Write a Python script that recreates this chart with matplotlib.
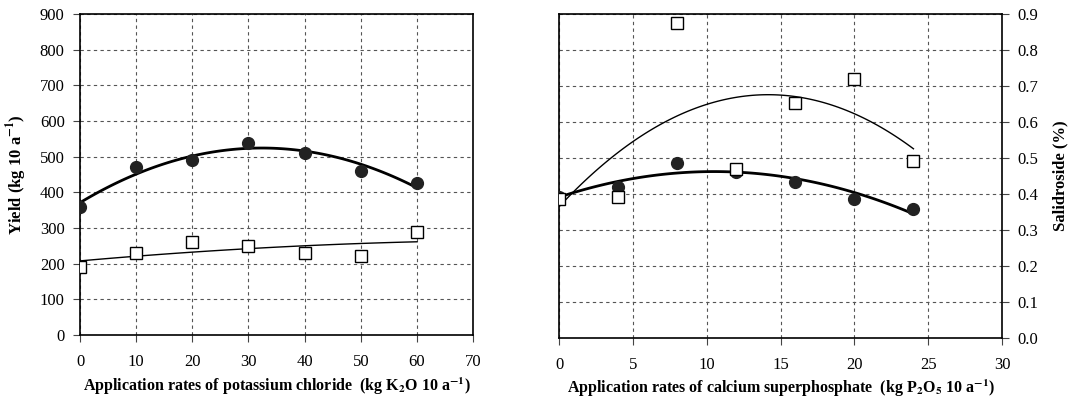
import numpy as np
import matplotlib
matplotlib.use("Agg")
from matplotlib import pyplot as plt

plt.rcParams['font.family'] = 'Liberation Serif'
plt.rcParams['mathtext.fontset'] = 'stix'

# potassium chloride trial
k_rate = [0, 10, 20, 30, 40, 50, 60]
k_yield = [360, 470, 490, 538, 510, 460, 425]
k_salid = [190, 230, 260, 250, 230, 220, 290]   # plotted on the yield scale

# calcium superphosphate trial
p_rate = [0, 4, 8, 12, 16, 20, 24]
p_yield = [0.39, 0.42, 0.485, 0.462, 0.433, 0.387, 0.357]
p_salid = [0.385, 0.39, 0.875, 0.47, 0.652, 0.72, 0.49]

def trend(ax, x, y, lw):
	c = np.polyfit(x, y, 2)
	xs = np.linspace(min(x), max(x), 100)
	ax.plot(xs, np.polyval(c, xs), color='black', lw=lw, zorder=2)

def style(ax):
	ax.grid(True, ls=(0, (3, 3)), color='#555555', lw=0.8)
	ax.set_axisbelow(True)
	ax.tick_params(labelsize=12, direction='out', length=5, color='#444444')
	ax.tick_params(axis='y', pad=6)
	ax.tick_params(axis='x', pad=9)
	for s in ax.spines.values():
		s.set_linewidth(1.2)

fig = plt.figure(figsize=(10.71, 4.08), dpi=100)
ax1 = fig.add_axes([0.0747, 0.179, 0.367, 0.787])
ax2 = fig.add_axes([0.522, 0.172, 0.4136, 0.794])

# left panel
trend(ax1, k_rate, k_yield, 2.0)
trend(ax1, k_rate, k_salid, 1.0)
ax1.plot(k_rate, k_yield, 'o', ms=8.5, color='#222222', zorder=3)
ax1.plot(k_rate, k_salid, 's', ms=8.5, mfc='white', mec='black', mew=1.0, zorder=3)
ax1.set_xlim(0, 70)
ax1.set_ylim(0, 900)
ax1.set_xticks(range(0, 71, 10))
ax1.set_yticks(range(0, 901, 100))
style(ax1)
ax1.set_ylabel(r"Yield (kg 10 a$^{\mathbf{-1}}$)", fontsize=12, fontweight='bold', labelpad=8)
ax1.set_xlabel(r"Application rates of potassium chloride  (kg K$_{\mathbf{2}}$O 10 a$^{\mathbf{-1}}$)",
	fontsize=11.5, fontweight='bold', labelpad=4)

# right panel
trend(ax2, p_rate, p_yield, 2.0)
trend(ax2, p_rate, p_salid, 1.0)
ax2.plot(p_rate, p_yield, 'o', ms=8.5, color='#222222', zorder=3)
ax2.plot(p_rate, p_salid, 's', ms=8.5, mfc='white', mec='black', mew=1.0, zorder=3)
ax2.set_xlim(0, 30)
ax2.set_ylim(0, 0.9)
ax2.set_xticks(range(0, 31, 5))
ax2.set_yticks(np.arange(0, 0.91, 0.1))
ax2.set_yticklabels(["%.1f" % v for v in np.arange(0, 0.91, 0.1)])
ax2.yaxis.tick_right()
ax2.yaxis.set_label_position('right')
style(ax2)
ax2.set_ylabel("Salidroside (%)", fontsize=12, fontweight='bold', labelpad=10)
ax2.set_xlabel(r"Application rates of calcium superphosphate  (kg P$_{\mathbf{2}}$O$_{\mathbf{5}}$ 10 a$^{\mathbf{-1}}$)",
	fontsize=11.5, fontweight='bold', labelpad=3)

plt.savefig("out.png", dpi=100)
